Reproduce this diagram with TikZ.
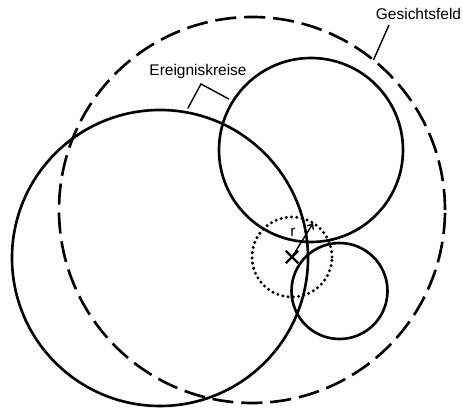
\documentclass[tikz,border=0pt]{standalone}
\usepackage{fontspec}
\setmainfont{Liberation Sans}
\usetikzlibrary{arrows.meta, calc, shapes.misc}
\tikzset{
  kreis/.style={circle, draw, line width=1.5pt, inner sep=0pt, outer sep=0pt,
                minimum size=#1},
  feldkreis/.style={kreis=#1, dash pattern=on 12pt off 4.5pt},
  punktkreis/.style={kreis=#1, line width=1.9pt, line cap=round,
                     dash pattern=on 0pt off 3pt},
  kreuz/.style={cross out, draw, line width=1.3pt, minimum size=0.2cm, inner sep=0pt},
  lbl/.style={font=\fontsize{8.8}{10}\selectfont, inner sep=1pt},
  leader/.style={line width=0.8pt},
  radius/.style={-{Straight Barb[length=2.5pt, width=4pt]}, line width=0.8pt},
}

\begin{document}
\begin{tikzpicture}
  \useasboundingbox (0,0) rectangle (9.26,8.2);

  % Gesichtsfeld and Ereigniskreise
  \node[feldkreis=7.72cm] (feld) at (5.04, 4.00) {};
  \node[kreis=5.92cm] (kreisL) at (3.20, 3.04) {};
  \node[kreis=3.68cm] (kreisO) at (6.22, 5.20) {};
  \node[kreis=1.92cm] (kreisU) at (6.79, 2.38) {};
  \node[punktkreis=1.60cm] (punkt) at (5.84, 3.06) {};

  % Mittelpunkt und Radius
  \node[kreuz] (mitte) at (punkt.center) {};
  \draw[radius] (punkt.center) -- (punkt.58);
  \node[lbl] (r) at (5.86, 3.56) {r};

  % Labels
  \node[lbl] (gesicht) at (8.37, 7.92) {Gesichtsfeld};
  \node[lbl] (ereig) at (3.96, 6.76) {Ereigniskreise};
  \coordinate (gabel) at (4.02, 6.52);
  \coordinate (gfuss) at (7.78, 7.70);

  % Leaders
  \draw[leader] (gfuss) -- (feld.51);
  \draw[leader, shorten <=2.5pt, shorten >=2.5pt] (kreisL.80) -- (gabel) -- (kreisO.148);
\end{tikzpicture}
\end{document}
